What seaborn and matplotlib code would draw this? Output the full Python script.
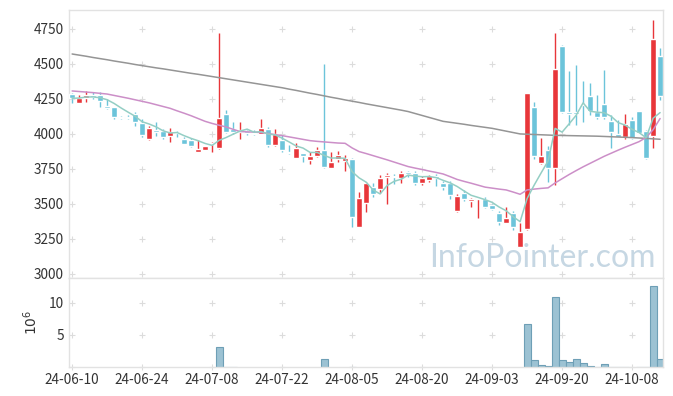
import numpy as np
import pandas as pd
import matplotlib
matplotlib.use("Agg")
import matplotlib.pyplot as plt
import seaborn as sns

# 거래일 (한국 휴장일 제외)
holidays = ['2024-08-15', '2024-09-16', '2024-09-17', '2024-09-18',
            '2024-10-01', '2024-10-03', '2024-10-09']
days = pd.bdate_range('2024-06-10', '2024-10-15')
days = days[~days.isin(pd.to_datetime(holidays))]

open_ = [4286, 4224, 4255, 4281, 4276, 4200, 4190, 4122, 4122, 4140,
         4076, 3962, 4029, 4021, 3983, 4017, 3964, 3955, 3874, 3888,
         3926, 3898, 4141, 4036, 4012, 4021, 4010, 4000, 4036, 3921,
         3960, 3871, 3831, 3864, 3817, 3845, 3886, 3760, 3821, 3807,
         3821, 3338, 3505, 3624, 3607, 3695, 3697, 3686, 3729, 3719,
         3648, 3671, 3700, 3652, 3652, 3452, 3581, 3519, 3533, 3538,
         3490, 3433, 3367, 3438, 3195, 3324, 4193, 3793, 3883, 3760,
         4631, 4159, 4159, 4210, 4274, 4160, 4217, 4093, 4000, 3979,
         4100, 4164, 4021, 3988, 4555]
high = [4291, 4276, 4305, 4300, 4300, 4252, 4195, 4129, 4136, 4159,
        4110, 4060, 4088, 4036, 4040, 4020, 3975, 3969, 3955, 3917,
        3945, 4719, 4171, 4088, 4083, 4030, 4025, 4105, 4052, 4036,
        3990, 3921, 3938, 3866, 3874, 3905, 4498, 3869, 3880, 3850,
        3825, 3583, 3660, 3648, 3709, 3719, 3714, 3733, 3733, 3733,
        3700, 3709, 3714, 3667, 3667, 3571, 3600, 3545, 3550, 3552,
        3500, 3448, 3476, 3452, 3362, 4295, 4226, 3969, 3917, 4719,
        4636, 4450, 4493, 4379, 4362, 4279, 4457, 4136, 4102, 4145,
        4119, 4167, 4026, 4814, 4612]
low = [4220, 4220, 4230, 4250, 4195, 4176, 4105, 4110, 4105, 4057,
       3976, 3955, 3986, 3964, 3940, 3980, 3925, 3907, 3874, 3885,
       3869, 3895, 4010, 4002, 3964, 3995, 3990, 3998, 3907, 3917,
       3869, 3859, 3829, 3798, 3783, 3836, 3755, 3760, 3800, 3736,
       3338, 3338, 3445, 3552, 3581, 3500, 3645, 3648, 3690, 3638,
       3633, 3655, 3629, 3600, 3538, 3443, 3519, 3476, 3400, 3471,
       3457, 3352, 3367, 3314, 3195, 3314, 3821, 3783, 3660, 3636,
       4150, 4064, 4064, 4086, 4136, 4107, 4107, 3902, 3976, 3964,
       3964, 4005, 3821, 3898, 4243]
close = [4255, 4257, 4279, 4267, 4233, 4186, 4124, 4117, 4117, 4088,
         3990, 4043, 4014, 3976, 4012, 4005, 3931, 3917, 3893, 3914,
         3936, 4112, 4017, 4012, 4026, 4005, 4000, 4043, 3921, 3998,
         3886, 3867, 3898, 3845, 3843, 3886, 3764, 3800, 3850, 3829,
         3409, 3543, 3648, 3571, 3686, 3709, 3693, 3724, 3717, 3652,
         3686, 3700, 3686, 3619, 3562, 3557, 3538, 3533, 3543, 3481,
         3462, 3371, 3400, 3333, 3300, 4290, 3845, 3840, 3760, 4464,
         4155, 4140, 4145, 4205, 4164, 4121, 4124, 4017, 3979, 4074,
         3971, 4007, 3831, 4679, 4274]
# 거래량 (백만 주)
volume = [0, 0, 0, 0, 0, 0, 0, 0, 0, 0,
          0, 0, 0, 0, 0, 0, 0, 0, 0, 0,
          0, 3.15, 0.12, 0.1, 0, 0, 0, 0, 0, 0,
          0, 0, 0, 0, 0, 0, 1.3, 0, 0, 0,
          0.1, 0, 0, 0, 0, 0, 0, 0, 0, 0,
          0, 0, 0, 0, 0, 0, 0, 0, 0, 0,
          0, 0, 0, 0, 0, 6.7, 1.2, 0.4, 0.25, 10.8,
          1.2, 0.85, 1.3, 0.7, 0.25, 0.05, 0.55, 0.05, 0.05, 0.05,
          0, 0.05, 0.05, 12.6, 1.3]
ma20 = [4307, 4303, 4299, 4295, 4290, 4285, 4275, 4265, 4255, 4244,
        4233, 4222, 4209, 4196, 4183, 4165, 4148, 4130, 4110, 4090,
        4075, 4062, 4050, 4033, 4017, 4015, 4013, 4010, 4003, 3995,
        3988, 3979, 3970, 3961, 3952, 3947, 3943, 3939, 3935, 3933,
        3900, 3874, 3860, 3845, 3830, 3815, 3799, 3783, 3767, 3756,
        3746, 3735, 3725, 3714, 3695, 3675, 3661, 3648, 3634, 3620,
        3613, 3606, 3600, 3585, 3569, 3600, 3606, 3611, 3615, 3650,
        3680, 3710, 3738, 3765, 3790, 3815, 3840, 3862, 3884, 3905,
        3925, 3945, 3975, 4030, 4110]
ma120 = [4571, 4563, 4555, 4546, 4538, 4530, 4521, 4513, 4505, 4496,
         4488, 4480, 4472, 4465, 4457, 4449, 4441, 4433, 4426, 4418,
         4410, 4402, 4394, 4386, 4378, 4370, 4362, 4354, 4346, 4338,
         4330, 4320, 4311, 4301, 4291, 4282, 4272, 4262, 4253, 4243,
         4234, 4225, 4215, 4206, 4197, 4188, 4179, 4170, 4160, 4146,
         4132, 4118, 4104, 4090, 4083, 4076, 4069, 4061, 4054, 4047,
         4040, 4030, 4020, 4010, 4000, 3998, 3996, 3994, 3992, 3990,
         3989, 3988, 3987, 3986, 3985, 3984, 3982, 3980, 3978, 3976,
         3974, 3971, 3968, 3965, 3962]

price_ticks = [3000, 3250, 3500, 3750, 4000, 4250, 4500, 4750]
vol_ticks = [5, 10]

df = pd.DataFrame({'open': open_, 'high': high, 'low': low,
                   'close': close, 'volume': volume,
                   'ma20': ma20, 'ma120': ma120}, index=days)
df['idx'] = np.arange(len(df))
df['ma5'] = df['close'].rolling(5, min_periods=1).mean()
tick_idx = df['idx'].values[::10]
tick_labels = [d.strftime('%y-%m-%d') for d in df.index[::10]]

sns.set_theme(style="white")
plt.rcParams['font.family'] = ['Noto Sans CJK KR', 'DejaVu Sans']

RED = '#e8363a'
BLUE = '#6cc4da'
EDGE = '#e2e2e2'

fig = plt.figure(figsize=(6.73, 3.96), dpi=100)
ax1 = fig.add_axes([0.103, 0.298, 0.882, 0.677])
ax2 = fig.add_axes([0.103, 0.0725, 0.882, 0.2255], sharex=ax1)

# 캔들
up = df['close'] >= df['open']
colors = np.where(up, RED, BLUE)
ax1.vlines(df['idx'], df['low'], df['high'], colors=colors, lw=1, zorder=2)
body = (df['close'] - df['open']).abs().clip(lower=6)
bottom = np.minimum(df['open'], df['close'])
ax1.bar(df['idx'], body, bottom=bottom, width=0.85, color=colors, zorder=3)

# 이동평균선
sns.lineplot(x=df['idx'], y=df['ma120'], ax=ax1, color='#959595', lw=1.1, zorder=4)
sns.lineplot(x=df['idx'], y=df['ma20'], ax=ax1, color='#cc8fc8', lw=1.1, zorder=4)
sns.lineplot(x=df['idx'], y=df['ma5'], ax=ax1, color='#94cec4', lw=1.1, zorder=4)

ax1.text(0.988, 0.04, 'InfoPointer.com', transform=ax1.transAxes,
         ha='right', va='baseline', fontsize=23, color='#c6d7e3',
         family=['Lato', 'DejaVu Sans'], zorder=1)

# 거래량
vdf = df[df['volume'] > 0]
sns.barplot(x=vdf['idx'], y=vdf['volume'], ax=ax2, native_scale=True,
            width=1.0, color='#9cc2d3', saturation=1,
            edgecolor='#6e9fb6', linewidth=0.8)

ax1.set_ylim(2971, 4886)
ax1.set_yticks(price_ticks)
ax2.set_ylim(0, 13.8)
ax2.set_yticks(vol_ticks)
ax1.set_xlim(-0.4, 84.4)
ax2.set_xticks(tick_idx)
ax2.set_xticklabels(tick_labels)
ax1.tick_params(axis='x', labelbottom=False)

# 격자 대신 + 표시
for ax, yt in ((ax1, price_ticks), (ax2, [0] + vol_ticks)):
    xx, yy = np.meshgrid(tick_idx, yt)
    ax.scatter(xx.ravel(), yy.ravel(), marker='+', s=22, color='#dcdcdc',
               linewidths=0.8, zorder=0, clip_on=False)
    ax.set_xlabel('')
    ax.set_ylabel('')
    for sp in ax.spines.values():
        sp.set_color(EDGE)
        sp.set_linewidth(1)
    ax.tick_params(length=0, labelsize=9.8, colors='#333333', pad=4)

ax2.set_ylabel(r'$10^6$', fontsize=10, color='#333333', labelpad=6)

plt.savefig('out.png', dpi=100)
